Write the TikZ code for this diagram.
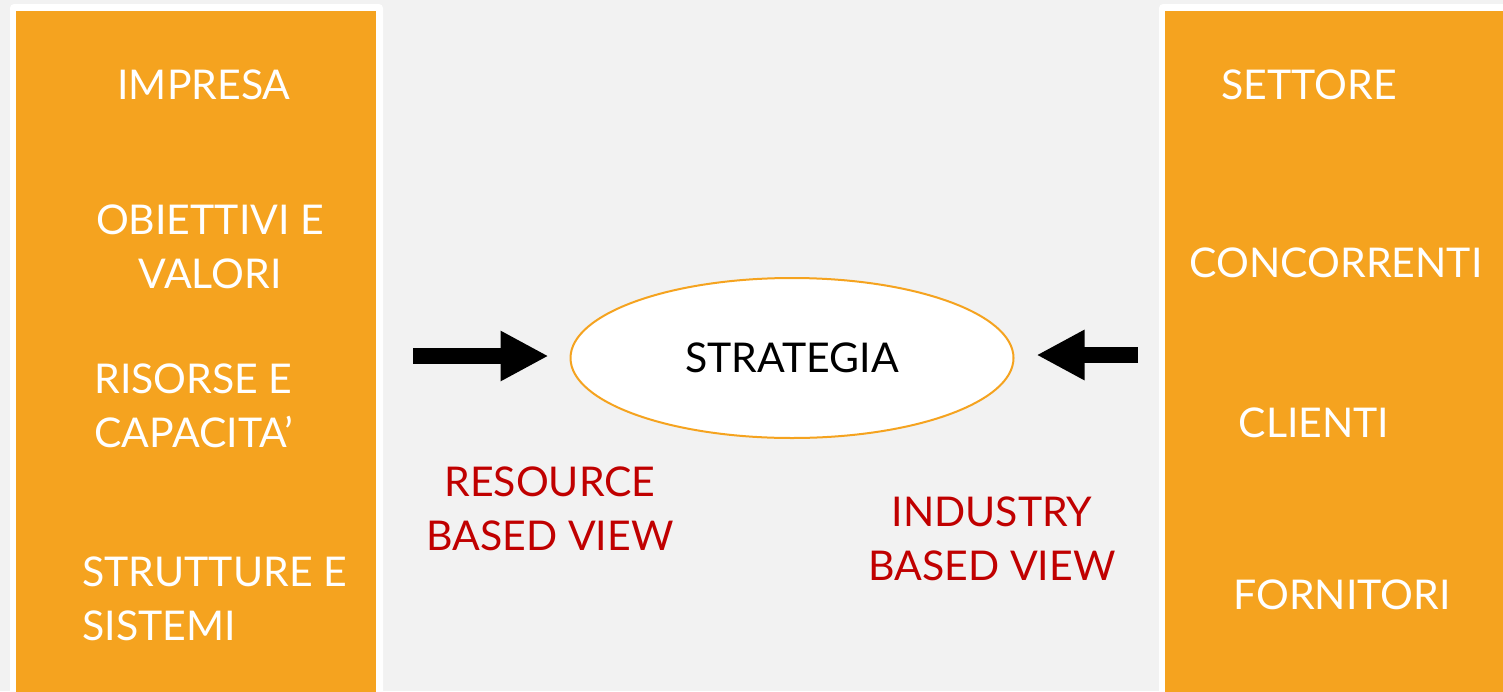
\documentclass[tikz,border=0pt]{standalone}
\usepackage{fontspec}
\setmainfont{Lato}
\usetikzlibrary{shapes.geometric,arrows.meta}
\definecolor{bgGray}{HTML}{F2F2F2}
\definecolor{boxOrange}{HTML}{F5A31F}
\definecolor{viewRed}{HTML}{C00000}
\tikzset{
	item/.style={text=white, inner sep=0pt, font=\fontsize{20.5}{27}\selectfont},
	view/.style={text=viewRed, inner sep=0pt, align=center, font=\fontsize{20.5}{27}\selectfont},
	bigarrow/.style={line width=8pt, -{Triangle[length=24pt,width=23.5pt]}}
}
\begin{document}
\begin{tikzpicture}[x=0.5pt,y=-0.5pt]
	\useasboundingbox (0,0) rectangle (1503,691);
	\fill[bgGray] (0,0) rectangle (1503,691);
	\fill[white, rounded corners=2pt] (10,4) rectangle (383,710);
	\fill[boxOrange] (16,11) rectangle (376,710);
	\fill[white, rounded corners=2pt] (1159,4) rectangle (1520,710);
	\fill[boxOrange] (1165,11) rectangle (1520,710);
	\node[item, anchor=base] (impresa) at (204,99) {IMPRESA};
	\node[item, anchor=base, align=center] (obiettivi) at (210,288) {OBIETTIVI E\\VALORI};
	\node[item, anchor=base west, align=left] (risorse) at (94,447) {RISORSE E\\CAPACITA’};
	\node[item, anchor=base west, align=left] (strutture) at (82,640) {STRUTTURE E\\SISTEMI};
	\node[item, anchor=base] (settore) at (1309,99) {SETTORE};
	\node[item, anchor=base] (concorrenti) at (1336,277) {CONCORRENTI};
	\node[item, anchor=base] (clienti) at (1314,437) {CLIENTI};
	\node[item, anchor=base] (fornitori) at (1342,609) {FORNITORI};
	\node[ellipse, draw=boxOrange, line width=1pt, fill=white, inner sep=0pt,
		minimum width=221.5pt, minimum height=80pt,
		font=\fontsize{20.5}{27}\selectfont] (strategia) at (792,358) {STRATEGIA};
	\node[view, anchor=base] (rbv) at (550,550) {RESOURCE\\BASED VIEW};
	\node[view, anchor=base] (ibv) at (992,580) {INDUSTRY\\BASED VIEW};
	\coordinate (rbvTail) at (413,356);
	\coordinate (ibvTail) at (1138,355);
	\draw[bigarrow, shorten >=10.5pt] (rbvTail) -- (rbvTail -| strategia.west);
	\draw[bigarrow, shorten >=11pt] (ibvTail) -- (ibvTail -| strategia.east);
\end{tikzpicture}
\end{document}
